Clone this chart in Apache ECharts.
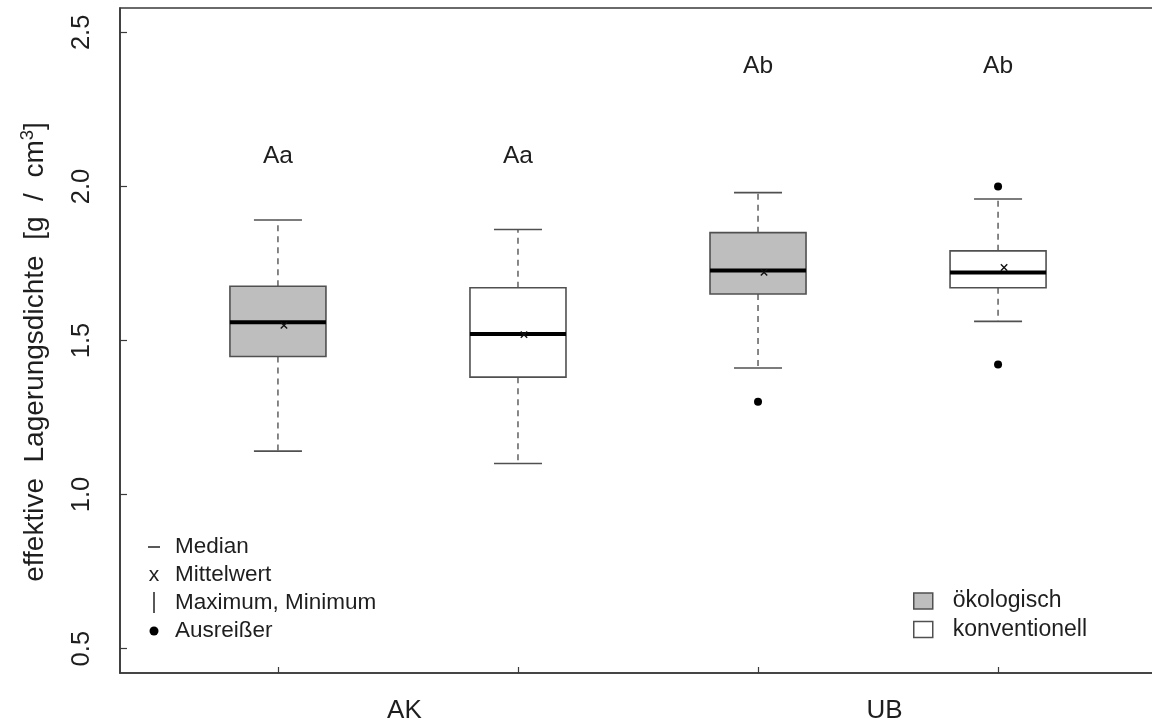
<!DOCTYPE html>
<html>
<head>
<meta charset="utf-8">
<script src="https://cdn.jsdelivr.net/npm/echarts@6/dist/echarts.min.js"></script>
<style>
  html, body { margin: 0; padding: 0; background: #ffffff; }
  #chart { width: 1152px; height: 724px; }
</style>
</head>
<body>
<div id="chart"></div>
<script>
// ---- data ----
const positions   = [1, 2, 3, 4];
const groups      = ['AK', 'UB'];
const groupCenters = [1.5, 3.5];
const treatments  = ['ökologisch', 'konventionell'];
const treatmentOfBox = [0, 1, 0, 1];
const mins    = [1.141, 1.101, 1.411, 1.562];
const q1s     = [1.448, 1.381, 1.651, 1.671];
const medians = [1.559, 1.521, 1.727, 1.721];
const q3s     = [1.676, 1.671, 1.850, 1.791];
const maxs    = [1.891, 1.860, 1.980, 1.959];
const means   = [1.549, 1.519, 1.721, 1.737];
const outlierPos = [3, 4, 4];
const outlierVal = [1.301, 2.000, 1.422];
const letters = ['Aa', 'Aa', 'Ab', 'Ab'];
const letterY = [2.098, 2.098, 2.391, 2.391];
const yTicks  = [0.5, 1.0, 1.5, 2.0, 2.5];
const yLabelMain = 'effektive  Lagerungsdichte  [g  /  cm';
const legendNotes = ['Median', 'Mittelwert', 'Maximum, Minimum', 'Ausreißer'];

// ---- styling ----
const FONT = 'Liberation Sans, Arial, Helvetica, sans-serif';
const fills = ['#bebebe', '#ffffff'];
const boxBorder = '#505050';
const frameColor = '#3a3a3a';
const textColor = '#1e1e1e';

const boxData = positions.map((p, i) => [p, mins[i], q1s[i], medians[i], q3s[i], maxs[i], means[i], treatmentOfBox[i]]);
const outlierData = outlierPos.map((p, i) => [p, outlierVal[i]]);
const letterData = positions.map((p, i) => ({ value: [p, letterY[i]], label: { formatter: letters[i] } }));

function renderBox(params, api) {
  const x = api.value(0);
  const vmin = api.value(1), q1 = api.value(2), med = api.value(3), q3 = api.value(4), vmax = api.value(5), mean = api.value(6);
  const fill = fills[api.value(7)];
  const halfBox = 0.2, halfCap = 0.1;
  const c = (xx, yy) => api.coord([xx, yy]);
  const pMin = c(x, vmin), pQ1 = c(x, q1), pMed = c(x, med), pQ3 = c(x, q3), pMax = c(x, vmax), pMean = c(x, mean);
  const xl = c(x - halfBox, q1)[0], xr = c(x + halfBox, q1)[0];
  const cl = c(x - halfCap, q1)[0], cr = c(x + halfCap, q1)[0];
  const dashed = { stroke: '#6a6a6a', lineWidth: 1.6, lineDash: [6, 5] };
  const solid = { stroke: boxBorder, lineWidth: 1.6 };
  const mx = pMean[0] + 6, my = pMean[1], s = 3.2;
  return {
    type: 'group',
    children: [
      { type: 'line', shape: { x1: pQ3[0], y1: pQ3[1], x2: pMax[0], y2: pMax[1] }, style: dashed },
      { type: 'line', shape: { x1: pQ1[0], y1: pQ1[1], x2: pMin[0], y2: pMin[1] }, style: dashed },
      { type: 'line', shape: { x1: cl, y1: pMax[1], x2: cr, y2: pMax[1] }, style: solid },
      { type: 'line', shape: { x1: cl, y1: pMin[1], x2: cr, y2: pMin[1] }, style: solid },
      { type: 'rect', shape: { x: xl, y: pQ3[1], width: xr - xl, height: pQ1[1] - pQ3[1] }, style: { fill: fill, stroke: boxBorder, lineWidth: 1.6 } },
      { type: 'line', shape: { x1: xl, y1: pMed[1], x2: xr, y2: pMed[1] }, style: { stroke: '#000', lineWidth: 4 } },
      { type: 'line', shape: { x1: mx - s, y1: my - s, x2: mx + s, y2: my + s }, style: { stroke: '#111', lineWidth: 1.4 } },
      { type: 'line', shape: { x1: mx - s, y1: my + s, x2: mx + s, y2: my - s }, style: { stroke: '#111', lineWidth: 1.4 } }
    ]
  };
}

const chart = echarts.init(document.getElementById('chart'), null, { renderer: 'canvas' });

const legendX = 148, legendTextX = 175, legendYs = [547, 575, 603, 631];

chart.setOption({
  animation: false,
  backgroundColor: '#ffffff',
  textStyle: { fontFamily: FONT },
  grid: {
    left: 120, top: 8, width: 1036, height: 665,
    outerBoundsMode: 'none', containLabel: false,
    show: true, borderColor: frameColor, borderWidth: 1.6, backgroundColor: '#ffffff'
  },
  xAxis: {
    type: 'value', min: 0.342, max: 4.658,
    splitLine: { show: false },
    axisLine: { show: true, lineStyle: { color: frameColor, width: 1.6 } },
    axisTick: { show: true, inside: true, length: 6, customValues: positions, lineStyle: { color: frameColor, width: 1.2 } },
    axisLabel: {
      show: true, customValues: groupCenters, margin: 25,
      fontSize: 26, color: textColor, fontFamily: FONT, padding: [0, 0, 0, 13],
      formatter: (v) => groups[groupCenters.indexOf(v)] || ''
    }
  },
  yAxis: {
    type: 'value', min: 0.421, max: 2.579,
    splitLine: { show: false },
    axisLine: { show: true, lineStyle: { color: frameColor, width: 1.6 } },
    axisTick: { show: true, inside: true, length: 7, customValues: yTicks, lineStyle: { color: frameColor, width: 1.2 } },
    axisLabel: {
      show: true, customValues: yTicks, rotate: 90, margin: 25,
      fontSize: 25.5, color: textColor, fontFamily: FONT,
      formatter: (v) => v.toFixed(1)
    }
  },
  legend: {
    show: true, orient: 'vertical', left: 913, top: 589, padding: 0,
    selectedMode: false, icon: 'rect',
    itemWidth: 19, itemHeight: 16, itemGap: 4.5,
    textStyle: { fontSize: 23, color: textColor, fontFamily: FONT, lineHeight: 24, padding: [0, 0, 0, 15] },
    data: treatments.map((t, i) => ({ name: t, itemStyle: { color: fills[i], borderColor: boxBorder, borderWidth: 1.5 } }))
  },
  series: [
    {
      type: 'custom', name: 'boxes', renderItem: renderBox, data: boxData,
      encode: { x: 0, y: [1, 2, 3, 4, 5, 6] }, z: 3, silent: true
    },
    {
      type: 'scatter', name: 'Ausreißer', data: outlierData, symbol: 'circle', symbolSize: 8,
      itemStyle: { color: '#000', opacity: 1 }, z: 4, silent: true
    },
    {
      type: 'scatter', name: 'letters', data: letterData, symbolSize: 0, silent: true,
      itemStyle: { opacity: 1 },
      label: { show: true, position: 'inside', fontSize: 24.5, color: textColor, fontFamily: FONT, opacity: 1 }
    },
    { type: 'scatter', name: treatments[0], data: [], symbol: 'rect', itemStyle: { color: fills[0], borderColor: boxBorder, borderWidth: 1.5, opacity: 1 } },
    { type: 'scatter', name: treatments[1], data: [], symbol: 'rect', itemStyle: { color: fills[1], borderColor: boxBorder, borderWidth: 1.5, opacity: 1 } }
  ],
  graphic: [
    {
      type: 'text', x: 35, y: 352, rotation: Math.PI / 2, silent: true,
      style: {
        text: '{a|' + yLabelMain + '}{s|3}{a|]}',
        align: 'center', verticalAlign: 'middle', fill: textColor,
        rich: {
          a: { fontSize: 28, fontFamily: FONT, fill: textColor },
          s: { fontSize: 18.5, fontFamily: FONT, fill: textColor, padding: [0, 0, 15, 0] }
        }
      }
    },
    // left note legend: symbols
    { type: 'line', silent: true, shape: { x1: legendX, y1: legendYs[0], x2: legendX + 12, y2: legendYs[0] }, style: { stroke: '#222', lineWidth: 1.5 } },
    { type: 'text', silent: true, x: legendX + 6, y: legendYs[1], style: { text: 'x', fontSize: 21, fontFamily: FONT, fill: '#222', align: 'center', verticalAlign: 'middle' } },
    { type: 'line', silent: true, shape: { x1: legendX + 6, y1: legendYs[2] - 11, x2: legendX + 6, y2: legendYs[2] + 10 }, style: { stroke: '#222', lineWidth: 1.5 } },
    { type: 'circle', silent: true, shape: { cx: legendX + 6, cy: legendYs[3], r: 4.5 }, style: { fill: '#000' } },
    // left note legend: texts
    ...legendNotes.map((t, i) => ({
      type: 'text', silent: true, x: legendTextX, y: legendYs[i],
      style: { text: t, fontSize: 22.5, fontFamily: FONT, fill: textColor, align: 'left', verticalAlign: 'middle' }
    }))
  ]
});
</script>
</body>
</html>
